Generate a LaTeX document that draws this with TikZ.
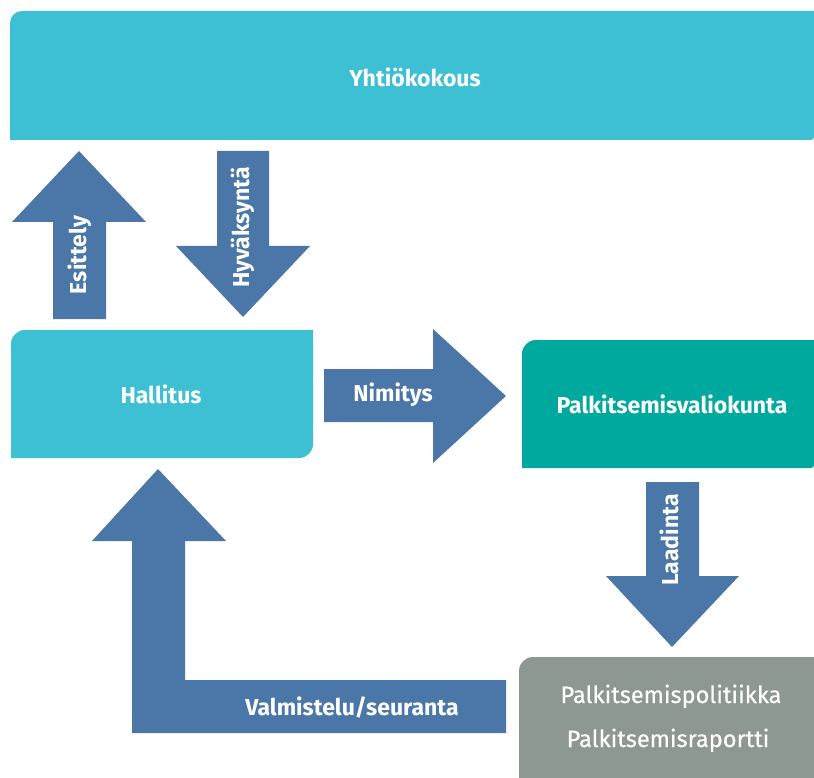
\documentclass[tikz,border=0pt]{standalone}
\usepackage{fontspec}
\setmainfont{Fira Sans}
\newfontfamily\medfont[FakeBold=0.35]{Fira Sans}
\usetikzlibrary{backgrounds}
\definecolor{cyanbox}{HTML}{3DC0D3}
\definecolor{arrowblue}{HTML}{4A77A7}
\definecolor{tealbox}{HTML}{00A99E}
\definecolor{graybox}{HTML}{8E9893}
\tikzset{
  boxarea/.style={inner sep=0pt, outer sep=0pt, anchor=north west},
  boldlabel/.style={text=white, font=\fontsize{23}{27}\selectfont\bfseries, inner sep=0pt, anchor=base},
  reglabel/.style={text=white, font=\medfont\fontsize{23.6}{28}\selectfont, inner sep=0pt, anchor=base},
  blockarrow/.style={fill=arrowblue}
}
\begin{document}
\begin{tikzpicture}[x=1pt,y=-1pt]
\useasboundingbox (0,0) rectangle (814,778);
% box areas
\node[boxarea, minimum width=804pt, minimum height=129pt] (yk) at (10,11) {};
\node[boxarea, minimum width=302pt, minimum height=128pt] (hal) at (11,330) {};
\node[boxarea, minimum width=292pt, minimum height=128pt] (pv) at (522,340) {};
\node[boxarea, minimum width=295pt, minimum height=121pt] (pp) at (519,657) {};
% box fills
\fill[cyanbox] (yk.south west) [rounded corners=12pt] -- (yk.north west) [sharp corners] -- (yk.north east) [rounded corners=3pt] -- (yk.south east) [sharp corners] -- cycle;
\fill[cyanbox] (hal.south west) [rounded corners=14pt] -- (hal.north west) [sharp corners] -- (hal.north east) [rounded corners=14pt] -- (hal.south east) [sharp corners] -- cycle;
\fill[tealbox] (pv.south west) [rounded corners=14pt] -- (pv.north west) [sharp corners] -- (pv.north east) [rounded corners=3pt] -- (pv.south east) [sharp corners] -- cycle;
\fill[graybox] (pp.south west) [rounded corners=14pt] -- (pp.north west) [sharp corners] -- (pp.north east) -- (pp.south east) -- cycle;
% block arrows
% Esittely (up)
\fill[blockarrow] (53,319) -- (53,222) -- (12,222) -- (79,151) -- (146,222) -- (106,222) -- (106,319) -- cycle;
% Hyvaksynta (down)
\fill[blockarrow] (217,151) -- (269,151) -- (269,246) -- (310,246) -- (243,317) -- (176,246) -- (217,246) -- cycle;
% Nimitys (right)
\fill[blockarrow] (324,369) -- (433,369) -- (433,329) -- (506,396) -- (433,463) -- (433,422) -- (324,422) -- cycle;
% Laadinta (down)
\fill[blockarrow] (646,482) -- (699,482) -- (699,576) -- (739,576) -- (672,647) -- (606,576) -- (646,576) -- cycle;
% Valmistelu/seuranta (L-shaped)
\fill[blockarrow] (506,733) -- (132,733) -- (132,541) -- (92,541) -- (158,469) -- (226,541) -- (185,541) -- (185,680) -- (506,680) -- cycle;
% labels
\node[boldlabel] (tyk) at (415,86.5) {Yhtiökokous};
\node[boldlabel] (thal) at (161,403) {Hallitus};
\node[boldlabel] (tpv) at (672,413) {Palkitsemisvaliokunta};
\node[boldlabel] (tnim) at (393,401) {Nimitys};
\node[boldlabel] (tval) at (352,715) {Valmistelu/seuranta};
\node[boldlabel, rotate=90] (tes) at (86,255) {Esittely};
\node[boldlabel, rotate=90] (thy) at (249,227.5) {Hyväksyntä};
\node[boldlabel, rotate=90] (tla) at (678,540) {Laadinta};
\node[reglabel] (tpp1) at (671,703) {Palkitsemispolitiikka};
\node[reglabel] (tpp2) at (668,747) {Palkitsemisraportti};
\end{tikzpicture}
\end{document}
